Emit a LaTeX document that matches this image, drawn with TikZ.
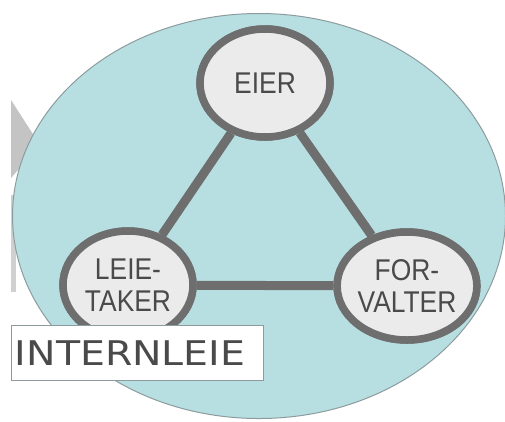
\documentclass[tikz,border=0pt]{standalone}
\usepackage{fontspec}
\usetikzlibrary{shapes.geometric}
\setmainfont{Liberation Sans}
\newfontfamily\rolefont[FakeStretch=0.88]{Liberation Sans}
\newfontfamily\boxfont[FakeStretch=1.16]{DejaVu Sans}
\definecolor{lagoon}{HTML}{B7DFE2}
\definecolor{rimgrey}{HTML}{8C9C9E}
\definecolor{ringgrey}{HTML}{6E6E6E}
\definecolor{discfill}{HTML}{EBEBEB}
\definecolor{inkgrey}{HTML}{4A4A4A}
\definecolor{arrowgrey}{HTML}{C4C4C4}
\begin{document}
\begin{tikzpicture}[x=1pt,y=-1pt,
  role/.style={ellipse, draw=ringgrey, line width=7.5pt, fill=discfill,
    minimum width=130pt, minimum height=108pt, inner sep=0pt,
    align=center, text=inkgrey, font=\rolefont\fontsize{30}{32}\selectfont},
  link/.style={draw=ringgrey, line width=9pt}]
\useasboundingbox (0,0) rectangle (505,421);
\fill[white] (0,0) rectangle (505,421);
% grey shape behind the ellipse
\fill[arrowgrey] (11,100) -- (40,145) -- (11,178) -- cycle;
\fill[arrowgrey!80] (11,195) rectangle (16,292);
% big ellipse
\node[ellipse, draw=rimgrey, line width=1pt, fill=lagoon,
  minimum width=493pt, minimum height=405pt, inner sep=0pt] (field) at (259,216) {};
% roles
\node[role] (eier) at (265,83) {EIER};
\node[role] (leie) at (128,285) {LEIE-\\TAKER};
\node[role] (forv) at (407,286) {FOR-\\VALTER};
\draw[link] (eier) -- (leie);
\draw[link] (eier) -- (forv);
\draw[link] (leie) -- (forv);
% redraw discs on top of links
\node[role] at (eier.center) {EIER};
\node[role] at (leie.center) {LEIE-\\TAKER};
\node[role] at (forv.center) {FOR-\\VALTER};
% label box
\node[draw=rimgrey, line width=0.8pt, fill=white, anchor=north west,
  minimum width=252pt, minimum height=55pt, inner sep=0pt,
  text=inkgrey, font=\boxfont\fontsize{34}{34}\selectfont, align=left,
  text width=245pt] (tag) at (11,325) {INTERNLEIE};
\end{tikzpicture}
\end{document}
